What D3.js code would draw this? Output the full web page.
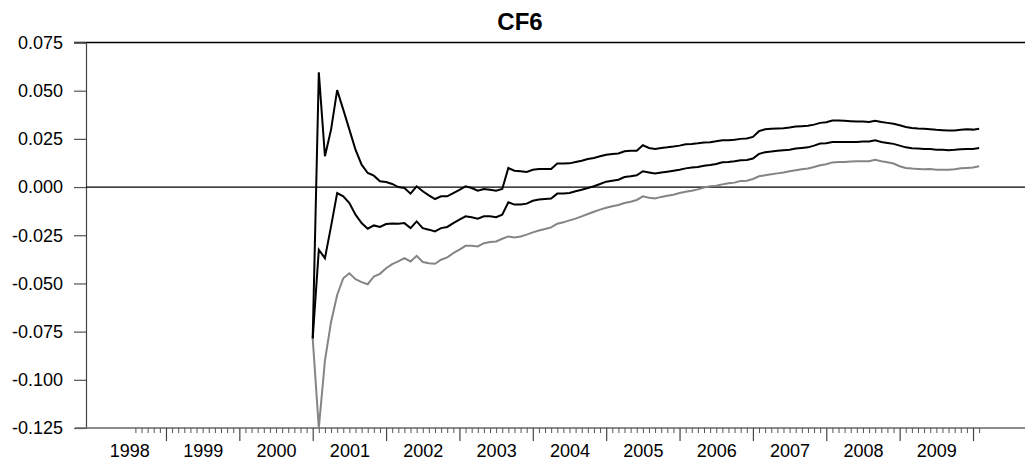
<!DOCTYPE html>
<html>
<head>
<meta charset="utf-8">
<script src="https://cdn.jsdelivr.net/npm/d3@7/dist/d3.min.js"></script>
<style>
  html, body { margin: 0; padding: 0; background: #fff; }
  svg { display: block; font-family: "Liberation Sans", Arial, sans-serif; }
</style>
</head>
<body>
<svg id="chart" width="1025" height="463"></svg>
<script>
// Monthly observations: the sample runs Aug 1998 .. Feb 2010, series start Jan 2001
const sampleStart = { year: 1998, month: 8 };
const sampleLength = 139;            // Aug 1998 .. Feb 2010
const seriesOffset = 29;             // Jan 2001 is observation 29

const yearLabels = ["1998", "1999", "2000", "2001", "2002", "2003", "2004", "2005", "2006", "2007", "2008", "2009"];
const yTicks = [0.075, 0.05, 0.025, 0, -0.025, -0.05, -0.075, -0.1, -0.125];

// Upper band
const upper = [
  -0.0785, 0.0595, 0.0160, 0.0298, 0.0503, 0.0402, 0.0298, 0.0194, 0.0116, 0.0073,
  0.0059, 0.0030, 0.0026, 0.0016, 0.0000, -0.0005, -0.0034, 0.0004, -0.0022, -0.0043,
  -0.0062, -0.0048, -0.0048, -0.0031, -0.0014, 0.0004, -0.0005, -0.0019, -0.0010, -0.0014,
  -0.0019, -0.0010, 0.0099, 0.0085, 0.0082, 0.0078, 0.0090, 0.0094, 0.0094, 0.0094,
  0.0122, 0.0122, 0.0123, 0.0130, 0.0137, 0.0146, 0.0151, 0.0160, 0.0168, 0.0172,
  0.0174, 0.0186, 0.0189, 0.0189, 0.0217, 0.0203, 0.0198, 0.0203, 0.0206, 0.0210,
  0.0215, 0.0222, 0.0224, 0.0227, 0.0231, 0.0232, 0.0238, 0.0243, 0.0243, 0.0245,
  0.0250, 0.0252, 0.0260, 0.0290, 0.0300, 0.0302, 0.0304, 0.0305, 0.0309, 0.0314,
  0.0316, 0.0318, 0.0324, 0.0333, 0.0336, 0.0345, 0.0345, 0.0344, 0.0342, 0.0340,
  0.0340, 0.0338, 0.0344, 0.0338, 0.0333, 0.0328, 0.0321, 0.0312, 0.0307, 0.0304,
  0.0302, 0.0300, 0.0297, 0.0295, 0.0293, 0.0293, 0.0297, 0.0300, 0.0298, 0.0302
];

// Point estimate
const middle = [
  -0.0785, -0.0325, -0.0369, -0.0204, -0.0031, -0.0048, -0.0083, -0.0143, -0.0187, -0.0216,
  -0.0199, -0.0207, -0.0192, -0.0189, -0.0190, -0.0187, -0.0213, -0.0178, -0.0213, -0.0221,
  -0.0230, -0.0213, -0.0207, -0.0187, -0.0169, -0.0152, -0.0157, -0.0164, -0.0152, -0.0152,
  -0.0156, -0.0143, -0.0079, -0.0091, -0.0091, -0.0086, -0.0071, -0.0065, -0.0062, -0.0059,
  -0.0034, -0.0034, -0.0031, -0.0022, -0.0014, -0.0005, 0.0004, 0.0016, 0.0028, 0.0033,
  0.0038, 0.0052, 0.0056, 0.0061, 0.0082, 0.0076, 0.0070, 0.0075, 0.0080, 0.0085,
  0.0090, 0.0097, 0.0101, 0.0104, 0.0111, 0.0115, 0.0120, 0.0129, 0.0130, 0.0134,
  0.0139, 0.0141, 0.0148, 0.0172, 0.0181, 0.0184, 0.0188, 0.0191, 0.0194, 0.0200,
  0.0203, 0.0206, 0.0215, 0.0226, 0.0227, 0.0234, 0.0234, 0.0234, 0.0234, 0.0234,
  0.0236, 0.0236, 0.0243, 0.0234, 0.0229, 0.0224, 0.0215, 0.0206, 0.0201, 0.0200,
  0.0198, 0.0198, 0.0194, 0.0193, 0.0191, 0.0193, 0.0196, 0.0198, 0.0198, 0.0203
];

// Lower band
const lower = [
  -0.0785, -0.1250, -0.0900, -0.0700, -0.0560, -0.0473, -0.0447, -0.0478, -0.0493, -0.0504,
  -0.0464, -0.0450, -0.0421, -0.0400, -0.0386, -0.0369, -0.0386, -0.0357, -0.0389, -0.0395,
  -0.0398, -0.0377, -0.0365, -0.0343, -0.0325, -0.0305, -0.0305, -0.0308, -0.0291, -0.0285,
  -0.0282, -0.0268, -0.0256, -0.0261, -0.0256, -0.0247, -0.0235, -0.0225, -0.0218, -0.0209,
  -0.0190, -0.0183, -0.0173, -0.0164, -0.0152, -0.0140, -0.0128, -0.0117, -0.0107, -0.0100,
  -0.0093, -0.0083, -0.0076, -0.0067, -0.0048, -0.0055, -0.0059, -0.0051, -0.0045, -0.0040,
  -0.0031, -0.0024, -0.0019, -0.0012, -0.0003, 0.0004, 0.0007, 0.0014, 0.0020, 0.0023,
  0.0032, 0.0033, 0.0042, 0.0056, 0.0061, 0.0066, 0.0071, 0.0076, 0.0082, 0.0087,
  0.0092, 0.0096, 0.0104, 0.0113, 0.0118, 0.0128, 0.0130, 0.0130, 0.0132, 0.0134,
  0.0134, 0.0134, 0.0141, 0.0134, 0.0129, 0.0122, 0.0108, 0.0099, 0.0096, 0.0094,
  0.0092, 0.0094, 0.0090, 0.0090, 0.0090, 0.0092, 0.0097, 0.0099, 0.0101, 0.0108
];

const svg = d3.select("#chart");

const plot = { left: 86, right: 1025, top: 42.5, bottom: 428 };

// Observation index -> pixel (one tick per month)
const x = d3.scaleLinear()
  .domain([0, sampleLength - 1])
  .range([135.4, 135.4 + 6.114 * (sampleLength - 1)]);

const y = d3.scaleLinear()
  .domain([-0.125, 0.075])
  .range([plot.bottom, plot.top]);

// Observation index of January for a given year
const janIndex = yr => (yr - sampleStart.year) * 12 + (1 - sampleStart.month);

// Tick labels with a plain hyphen for negatives
const fmt3 = d => d3.format(".3f")(d).replace("\u2212", "-");

// Title
svg.append("text")
  .attr("x", 520).attr("y", 29.5)
  .attr("text-anchor", "middle")
  .attr("font-size", 24).attr("font-weight", "bold")
  .attr("fill", "#000")
  .text("CF6");

// Frame top line
svg.append("line")
  .attr("x1", 74).attr("x2", plot.right)
  .attr("y1", plot.top).attr("y2", plot.top)
  .attr("stroke", "#000").attr("stroke-width", 1.3);

// Y axis
const yAxis = svg.append("g")
  .attr("transform", `translate(${plot.left},0)`)
  .call(d3.axisLeft(y).tickValues(yTicks).tickSize(12).tickPadding(11)
    .tickFormat(fmt3));
yAxis.select(".domain").attr("stroke", "#444").attr("stroke-width", 1.2);
yAxis.selectAll(".tick line").attr("stroke", "#555").attr("stroke-width", 1.2);
yAxis.selectAll(".tick text")
  .attr("font-size", 18).attr("fill", "#000")
  .attr("font-family", "'Liberation Sans', Arial, sans-serif");

// X axis line
svg.append("line")
  .attr("x1", 75).attr("x2", plot.right)
  .attr("y1", plot.bottom).attr("y2", plot.bottom)
  .attr("stroke", "#666").attr("stroke-width", 1.3);

// Monthly minor ticks and yearly major ticks
const janSet = new Set(d3.range(1999, 2011).map(janIndex));
const minorTicks = d3.range(sampleLength).filter(k => !janSet.has(k));
const majorTicks = Array.from(janSet);

const xMinor = svg.append("g")
  .attr("transform", `translate(0,${plot.bottom})`)
  .call(d3.axisBottom(x).tickValues(minorTicks).tickSize(5).tickFormat(""));
xMinor.select(".domain").remove();
xMinor.selectAll(".tick line").attr("stroke", "#555").attr("stroke-width", 1);

const xMajor = svg.append("g")
  .attr("transform", `translate(0,${plot.bottom})`)
  .call(d3.axisBottom(x).tickValues(majorTicks).tickSize(13).tickFormat(""));
xMajor.select(".domain").remove();
xMajor.selectAll(".tick line").attr("stroke", "#444").attr("stroke-width", 1.2);

// Year labels centred within each year
const yearMid = yearLabels.map(s => janIndex(+s) + 6);
const xLabels = svg.append("g")
  .attr("transform", `translate(0,${plot.bottom})`)
  .call(d3.axisBottom(x).tickValues(yearMid).tickSize(0).tickPadding(16)
    .tickFormat((d, i) => yearLabels[i]));
xLabels.select(".domain").remove();
xLabels.selectAll(".tick text")
  .attr("font-size", 18).attr("fill", "#000")
  .attr("font-family", "'Liberation Sans', Arial, sans-serif");

// Zero reference line
svg.append("line")
  .attr("x1", plot.left).attr("x2", plot.right)
  .attr("y1", y(0)).attr("y2", y(0))
  .attr("stroke", "#000").attr("stroke-width", 1.3);

// Series
const line = d3.line()
  .x((d, i) => x(seriesOffset + i))
  .y(d => y(d));

const series = [
  { values: lower, color: "#858585" },
  { values: middle, color: "#000" },
  { values: upper, color: "#000" }
];

svg.append("g").selectAll("path")
  .data(series)
  .join("path")
  .attr("d", s => line(s.values))
  .attr("fill", "none")
  .attr("stroke", s => s.color)
  .attr("stroke-width", 2)
  .attr("stroke-linejoin", "miter");
</script>
</body>
</html>
